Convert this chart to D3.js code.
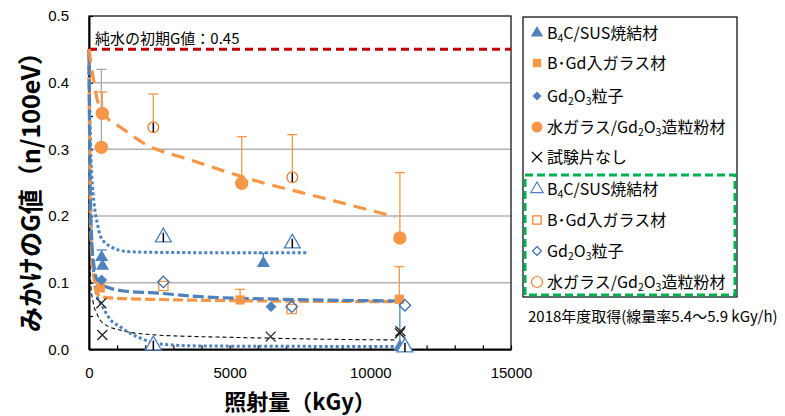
<!DOCTYPE html>
<html><head><meta charset="utf-8">
<script src="https://cdn.jsdelivr.net/npm/d3@7"></script>
<style>body{margin:0;background:#fff}</style>
</head><body><svg id="c" width="785" height="416"></svg>
<script>
// ---------------- data ----------------
const xTickValues = [0, 5000, 10000, 15000];
const yTickValues = [0.0, 0.1, 0.2, 0.3, 0.4, 0.5];
const pureWaterG = 0.45;
const pureWaterLabel = "純水の初期G値：0.45";

// filled markers (earlier data)
const b4cFilled = [[450, 0.138], [480, 0.125], [6197, 0.129], [11050, 0.004]];
const b4cFilledHi = [0.149, null, 0.144, 0.075];
const bgdFilled = [[400, 0.092], [5370, 0.074], [11030, 0.075]];
const bgdFilledHi = [0.100, 0.090, 0.124];
const gd2o3Filled = [[450, 0.104], [6470, 0.064]];
const wgFilled = [[440, 0.303], [473, 0.354], [5430, 0.249], [11050, 0.167]];
const wgFilledHi = [0.42, 0.386, 0.319, 0.265];
const noSample = [[440, 0.069], [473, 0.0215], [6457, 0.019], [11050, 0.024], [11070, 0.027]];

// hollow markers (2018)
const b4cHollow = [[2287, 0.006], [2643, 0.168], [7227, 0.159], [11230, 0.003]];
const bgdHollow = [[2643, 0.095], [7205, 0.0605]];
const gd2o3Hollow = [[2643, 0.101], [7205, 0.064], [11230, 0.066]];
const wgHollow = [[2287, 0.333], [7227, 0.258]];
const wgHollowHi = [0.383, 0.322];
const hollowSd = 0.007;

// trend lines
const trendWG = [[0,0.45],[100,0.42],[200,0.395],[295,0.374],[650,0.347],[1125,0.333],[1955,0.309],[3700,0.283],[5430,0.259],[8500,0.225],[10880,0.199]];
const trendB4CUp = [[0,0.45],[40,0.33],[100,0.26],[178,0.22],[300,0.188],[415,0.169],[770,0.154],[1360,0.1466],[2190,0.1455],[4000,0.145],[7800,0.145]];
const trendB4CLow = [[0,0.45],[40,0.25],[100,0.16],[178,0.11],[295,0.079],[415,0.069],[770,0.044],[1100,0.034],[1360,0.0265],[1840,0.0165],[2520,0.008],[3946,0.005],[7000,0.0045],[11050,0.004]];
const trendGd2O3 = [[0,0.45],[40,0.25],[100,0.16],[178,0.125],[295,0.104],[650,0.093],[1460,0.0865],[2190,0.085],[3946,0.079],[7000,0.075],[11050,0.0725]];
const trendBGd = [[0,0.45],[40,0.22],[100,0.14],[178,0.109],[238,0.089],[415,0.079],[1000,0.0765],[2190,0.075],[5000,0.073],[11050,0.0715]];
const trendNone = [[1,0.42],[5,0.3],[20,0.16],[60,0.1],[150,0.07],[295,0.052],[533,0.038],[1244,0.0275],[2190,0.022],[3946,0.019],[5010,0.018],[8570,0.015],[10950,0.014]];

// legend
const legendNames = ["B|4|C/SUS焼結材", "B･Gd入ガラス材", "Gd|2|O|3|粒子", "水ガラス/Gd|2|O|3|造粒粉材", "試験片なし"];
const note2018 = "2018年度取得(線量率5.4～5.9 kGy/h)";
const xTitle = "照射量（kGy）";
const yTitle = "みかけのG値（n/100eV）";

// ---------------- drawing ----------------
const BLUE = "#4f81bd", ORANGE = "#f79646", DBLUE = "#3c6ea8", ORANGE2 = "#ed7d31";
const svg = d3.select("#c");
const x = d3.scaleLinear().domain([0, 15000]).range([89, 511]);
const y = d3.scaleLinear().domain([0, 0.5]).range([349.3, 16]);
const sansJP = "'Noto Sans CJK JP', 'Noto Sans', sans-serif";
const num = "'Liberation Sans', Arial, sans-serif";

// grid
svg.append("g").selectAll("line").data(yTickValues.filter(v => v > 0 && v < 0.5)).join("line")
  .attr("x1", x(0)).attr("x2", x(15000)).attr("y1", d => y(d)).attr("y2", d => y(d))
  .attr("stroke", "#b3b3b3").attr("stroke-width", 1.5);

// plot border
svg.append("rect").attr("x", x(0)).attr("y", y(0.5)).attr("width", x(15000) - x(0)).attr("height", y(0) - y(0.5))
  .attr("fill", "none").attr("stroke", "#000").attr("stroke-width", 1.2);

// axes
const yAxis = d3.axisLeft(y).tickValues(d3.range(0, 0.501, 0.05)).tickSizeInner(-4).tickSizeOuter(0).tickPadding(20)
  .tickFormat(d => (Math.round(d * 100) % 10 === 0) ? d3.format(".1f")(d) : "");
const gy = svg.append("g").attr("transform", `translate(${x(0)},0)`).call(yAxis);
const xAxis = d3.axisBottom(x).tickValues(d3.range(0, 15001, 1000)).tickSizeInner(-4).tickSizeOuter(0).tickPadding(18)
  .tickFormat(d => xTickValues.includes(d) ? d : "");
const gx = svg.append("g").attr("transform", `translate(0,${y(0)})`).call(xAxis);
[gx, gy].forEach(g => {
  g.select(".domain").attr("stroke", "#000").attr("stroke-width", 2);
  g.selectAll(".tick line").attr("stroke", "#000").attr("stroke-width", 1.2);
  g.selectAll("text").attr("font-family", num).attr("font-size", 15).attr("fill", "#000");
});

// pure water line
svg.append("line").attr("x1", x(0)).attr("x2", x(15000)).attr("y1", y(pureWaterG)).attr("y2", y(pureWaterG))
  .attr("stroke", "#c00000").attr("stroke-width", 3).attr("stroke-dasharray", "8,5");
svg.append("text").attr("x", 95).attr("y", 44).text(pureWaterLabel)
  .attr("font-family", sansJP).attr("font-size", 15).attr("fill", "#000");

// trend lines
const line = d3.line().x(d => x(d[0])).y(d => y(d[1])).curve(d3.curveMonotoneX);
function trend(data, color, w, dash) {
  svg.append("path").attr("d", line(data)).attr("fill", "none").attr("stroke", color)
    .attr("stroke-width", w).attr("stroke-dasharray", dash);
}
trend(trendNone, "#000", 1.1, "4,3");
trend(trendB4CLow, BLUE, 3, "3,2.5");
trend(trendB4CUp, BLUE, 3, "3,2.5");
trend(trendBGd, ORANGE, 3.2, "10,4");
trend(trendGd2O3, BLUE, 3.2, "11,4");
trend(trendWG, ORANGE, 3.2, "13,8");

// error bars
function errBars(pts, hi, color) {
  pts.forEach((p, i) => {
    if (hi[i] == null) return;
    const c = typeof color === "function" ? color(i) : color;
    const g = svg.append("g").attr("stroke", c).attr("stroke-width", 1.3);
    g.append("line").attr("x1", x(p[0])).attr("x2", x(p[0])).attr("y1", y(p[1])).attr("y2", y(hi[i]));
    g.append("line").attr("x1", x(p[0]) - 5).attr("x2", x(p[0]) + 5).attr("y1", y(hi[i])).attr("y2", y(hi[i]));
  });
}
errBars(wgFilled, wgFilledHi, i => i === 0 ? "#a6a6a6" : ORANGE);
errBars(wgHollow, wgHollowHi, ORANGE);
errBars(bgdFilled, bgdFilledHi, ORANGE);
errBars(b4cFilled, b4cFilledHi, BLUE);

// markers
const diamond = r => `M0,${-r}L${r},0L0,${r}L${-r},0Z`;
const sym = (type, size) => type === "diamond" ? diamond(Math.sqrt(size / 2)) : d3.symbol().type(type).size(size)();
function markers(pts, type, size, fill, stroke, sw) {
  svg.append("g").selectAll("path").data(pts).join("path")
    .attr("transform", d => `translate(${x(d[0])},${y(d[1])})`)
    .attr("d", sym(type, size)).attr("fill", fill).attr("stroke", stroke).attr("stroke-width", sw);
}
function crosses(pts, color) {
  svg.append("g").selectAll("path").data(pts).join("path")
    .attr("transform", d => `translate(${x(d[0])},${y(d[1])})`)
    .attr("d", "M-5,-5L5,5M-5,5L5,-5").attr("stroke", color).attr("stroke-width", 1.3).attr("fill", "none");
}
markers(bgdFilled, d3.symbolSquare, 85, ORANGE, "none", 0);
markers(gd2o3Filled, "diamond", 60, BLUE, "none", 0);
markers(b4cFilled, d3.symbolTriangle, 75, BLUE, "none", 0);
markers(wgFilled, d3.symbolCircle, 140, ORANGE, "none", 0);
crosses(noSample, "#222");
markers(bgdHollow, d3.symbolSquare, 85, "#fff", ORANGE, 1.3);
markers(gd2o3Hollow, "diamond", 65, "none", DBLUE, 1.3);
markers(b4cHollow, d3.symbolTriangle, 110, "#fff", BLUE, 1.3);
markers(wgHollow, d3.symbolCircle, 90, "#fff", ORANGE2, 1.3);
// small sd bars inside hollow markers
[...b4cHollow, ...wgHollow].forEach(p => {
  svg.append("line").attr("x1", x(p[0])).attr("x2", x(p[0]))
    .attr("y1", y(p[1] - hollowSd)).attr("y2", y(p[1] + hollowSd)).attr("stroke", "#000").attr("stroke-width", 1.5);
});

// legend
svg.append("rect").attr("x", 523).attr("y", 17).attr("width", 214).attr("height", 280)
  .attr("fill", "none").attr("stroke", "#000").attr("stroke-width", 1.2);
svg.append("rect").attr("x", 525).attr("y", 175).attr("width", 210).attr("height", 120)
  .attr("fill", "none").attr("stroke", "#00b050").attr("stroke-width", 3).attr("stroke-dasharray", "8,4");
const legFilledY = [33, 63, 96, 127, 157];
const legHollowY = [189, 220, 251, 282];
const legSyms = [d3.symbolTriangle, d3.symbolSquare, "diamond", d3.symbolCircle];
const legSizes = [65, 70, 40, 95];
const legColors = [BLUE, ORANGE, BLUE, ORANGE];
const legHColors = [BLUE, ORANGE2, DBLUE, ORANGE2];
function legendText(yy, name) {
  const t = svg.append("text").attr("x", 547).attr("y", yy + 6).attr("font-family", sansJP)
    .attr("font-size", 16).attr("fill", "#000");
  name.split("|").forEach((part, i) => {
    if (i % 2 === 1) t.append("tspan").attr("font-size", 10.5).attr("dy", 3).text(part);
    else t.append("tspan").attr("dy", i === 0 ? 0 : -3).text(part);
  });
}
legSyms.forEach((s, i) => {
  svg.append("path").attr("transform", `translate(537,${legFilledY[i]})`).attr("d", sym(s, legSizes[i])).attr("fill", legColors[i]);
  legendText(legFilledY[i], legendNames[i]);
  svg.append("path").attr("transform", `translate(537,${legHollowY[i]})`).attr("d", sym(s, legSizes[i]))
    .attr("fill", "none").attr("stroke", legHColors[i]).attr("stroke-width", 1.2);
  legendText(legHollowY[i], legendNames[i]);
});
svg.append("path").attr("transform", `translate(537,${legFilledY[4]})`).attr("d", "M-5,-5L5,5M-5,5L5,-5")
  .attr("stroke", "#000").attr("stroke-width", 1.2);
legendText(legFilledY[4], legendNames[4]);

svg.append("text").attr("x", 528).attr("y", 322).text(note2018)
  .attr("font-family", sansJP).attr("font-size", 15).attr("fill", "#000");

// axis titles
svg.append("text").attr("x", 300).attr("y", 410).attr("text-anchor", "middle").text(xTitle)
  .attr("font-family", sansJP).attr("font-size", 22).attr("font-weight", "bold").attr("fill", "#000");
svg.append("text").attr("transform", "translate(40,186) rotate(-90)").attr("text-anchor", "middle").text(yTitle)
  .attr("font-family", sansJP).attr("font-size", 25).attr("font-weight", "bold").attr("fill", "#000");
</script></body></html>
